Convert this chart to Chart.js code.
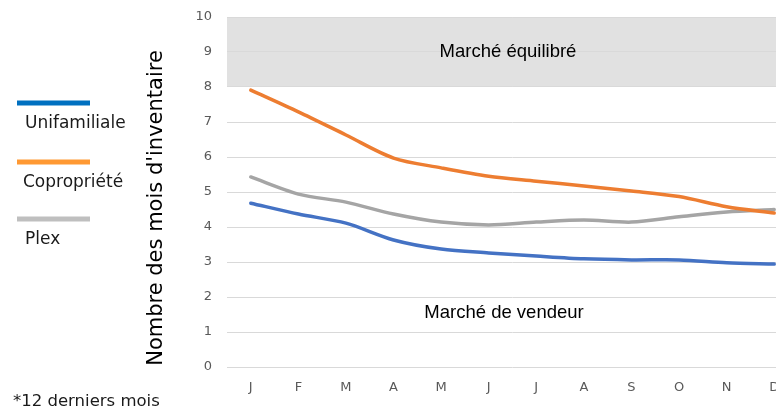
<!DOCTYPE html>
<html>
<head>
<meta charset="utf-8">
<script src="https://cdn.jsdelivr.net/npm/chart.js@4"></script>
<style>
  html, body { margin: 0; padding: 0; background: #fff; overflow: hidden; }
  #wrap { position: relative; width: 776px; height: 412px; overflow: hidden; }
  #inv { position: absolute; left: 0; top: 0; }
</style>
</head>
<body>
<div id="wrap"><canvas id="inv" width="800" height="412"></canvas></div>
<script>
const months = ["J", "F", "M", "A", "M", "J", "J", "A", "S", "O", "N", "D"];
const unifamiliale = [4.68, 4.37, 4.11, 3.63, 3.37, 3.26, 3.17, 3.09, 3.06, 3.06, 2.98, 2.94];
const copropriete = [7.91, 7.29, 6.63, 5.97, 5.69, 5.45, 5.31, 5.17, 5.03, 4.87, 4.58, 4.4];
const plex = [5.43, 4.94, 4.71, 4.37, 4.14, 4.06, 4.14, 4.2, 4.14, 4.29, 4.43, 4.5];
const seriesNames = ["Unifamiliale", "Copropriété", "Plex"];
const balancedZone = [8, 10];

const txtFont = '"DejaVu Sans", sans-serif';

// grey "marché équilibré" band, under the grid lines
const bandPlugin = {
  id: "band",
  beforeDraw(chart) {
    const { ctx, chartArea, scales } = chart;
    const yTop = scales.y.getPixelForValue(balancedZone[1]);
    const yBot = scales.y.getPixelForValue(balancedZone[0]);
    ctx.save();
    ctx.fillStyle = "#e1e1e1";
    ctx.fillRect(chartArea.left, yTop, chartArea.right - chartArea.left, yBot - yTop);
    ctx.restore();
  }
};

// texts and legend on the left side
const notesPlugin = {
  id: "notes",
  afterDraw(chart) {
    const { ctx, scales } = chart;
    ctx.save();
    ctx.fillStyle = "#000";
    ctx.font = '18.5px "Liberation Sans", Arial, sans-serif';
    ctx.textAlign = "center";
    ctx.textBaseline = "middle";
    ctx.fillText("Marché équilibré", 508, scales.y.getPixelForValue(9));
    ctx.fillText("Marché de vendeur", 504, scales.y.getPixelForValue(1.55));

    // axis title
    ctx.save();
    ctx.translate(157, 208);
    ctx.rotate(-Math.PI / 2);
    ctx.font = "21px " + txtFont;
    ctx.fillStyle = "#000";
    ctx.fillText("Nombre des mois d'inventaire", 0, 0);
    ctx.restore();

    // legend
    const legendColors = ["#0070c0", "#ff9933", "#bfbfbf"];
    const lineY = [103, 162, 219];
    ctx.textAlign = "left";
    ctx.font = "17px " + txtFont;
    seriesNames.forEach((name, i) => {
      ctx.fillStyle = legendColors[i];
      ctx.fillRect(17, lineY[i] - 2.5, 73, 5);
      ctx.fillStyle = "#1a1a1a";
      ctx.fillText(name, i === 1 ? 23 : 25, lineY[i] + 21);
    });

    ctx.font = "16.5px " + txtFont;
    ctx.fillText("*12 derniers mois", 13, 402);
    ctx.restore();
  }
};

new Chart(document.getElementById("inv"), {
  type: "line",
  data: {
    labels: months,
    datasets: [
      { label: seriesNames[0], data: unifamiliale, borderColor: "#4472c4" },
      { label: seriesNames[1], data: copropriete, borderColor: "#ed7d31" },
      { label: seriesNames[2], data: plex, borderColor: "#a5a5a5" }
    ]
  },
  options: {
    responsive: false,
    animation: false,
    layout: { padding: { left: 0, right: 2, top: 17, bottom: 0 } },
    elements: {
      line: { borderWidth: 3.5, tension: 0.3, borderCapStyle: "round" },
      point: { radius: 0 }
    },
    plugins: { legend: { display: false }, tooltip: { enabled: false } },
    scales: {
      x: {
        offset: true,
        afterFit(scale) { scale.height = 45; },
        grid: { display: false, drawTicks: false },
        border: { display: false },
        ticks: {
          padding: 13,
          color: "#595959",
          font: { family: txtFont, size: 13 }
        }
      },
      y: {
        min: 0,
        max: 10,
        afterFit(scale) {
          scale.width = 227;
          scale.paddingTop = 0;
          scale.paddingBottom = 0;
        },
        grid: { color: "#d9d9d9", lineWidth: 1, drawTicks: false },
        border: { display: false },
        ticks: {
          stepSize: 1,
          padding: 15,
          color: "#595959",
          font: { family: txtFont, size: 13 }
        }
      }
    }
  },
  plugins: [bandPlugin, notesPlugin]
});
</script>
</body>
</html>
